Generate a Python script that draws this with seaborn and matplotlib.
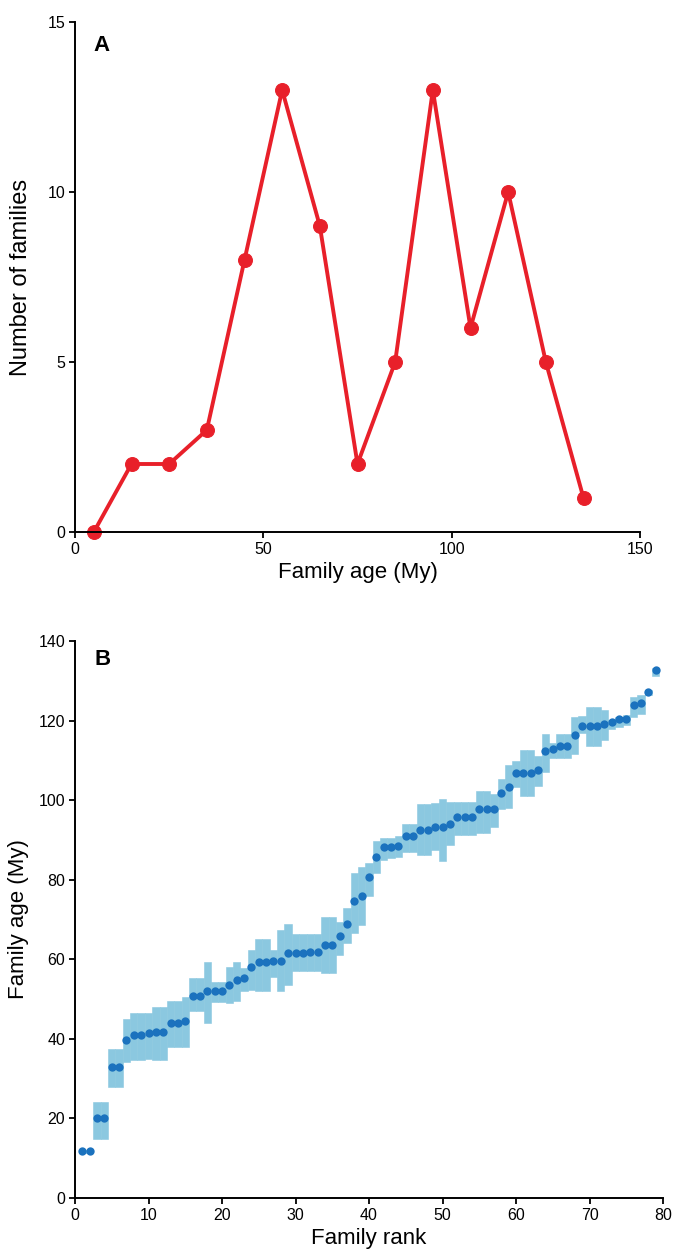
import numpy as np
import pandas as pd
import matplotlib
matplotlib.use("Agg")
import matplotlib.pyplot as plt
import seaborn as sns

sns.set_theme(style="ticks")
plt.rcParams['font.family'] = ['Liberation Sans', 'DejaVu Sans']
plt.rcParams['text.color'] = 'black'
plt.rcParams['axes.labelcolor'] = 'black'
plt.rcParams['xtick.color'] = 'black'
plt.rcParams['ytick.color'] = 'black'

# ---- Panel A data ----
age_bins = [5, 15, 25, 35, 45, 55, 65, 75, 85, 95, 105, 115, 125, 135]
n_families = [0, 2, 2, 3, 8, 13, 9, 2, 5, 13, 6, 10, 5, 1]

# ---- Panel B data ----
family_rank = list(range(1, 80))
family_age = [11.7, 11.7, 20.0, 20.0, 33.0, 33.0, 39.8, 40.9, 40.9, 41.4,
              41.7, 41.7, 44.1, 44.1, 44.5, 50.8, 50.8, 52.1, 52.1, 52.1,
              53.6, 54.9, 55.3, 58.0, 59.2, 59.2, 59.6, 59.6, 61.6, 61.6,
              61.6, 61.9, 61.9, 63.6, 63.6, 65.9, 68.8, 74.7, 75.9, 80.7,
              85.8, 88.2, 88.2, 88.5, 91.0, 91.0, 92.5, 92.5, 93.3, 93.3,
              94.1, 95.7, 95.7, 95.7, 97.7, 97.7, 97.7, 101.9, 103.3, 106.8,
              106.8, 106.8, 107.6, 112.4, 112.8, 113.6, 113.6, 116.3, 118.7, 118.7,
              118.7, 119.2, 119.6, 120.4, 120.3, 123.9, 124.3, 127.1, 132.6]
age_upper = [12.0, 12.0, 24.2, 24.2, 37.4, 37.4, 44.9, 46.4, 46.4, 46.4,
             48.0, 48.0, 49.6, 49.6, 50.4, 55.2, 55.2, 59.2, 54.4, 54.4,
             58.0, 59.2, 57.8, 62.3, 65.1, 65.1, 62.3, 67.3, 68.8, 66.3,
             66.3, 66.3, 66.3, 70.7, 70.7, 69.4, 73.0, 81.7, 83.2, 84.1,
             89.7, 90.4, 90.4, 91.0, 94.1, 94.1, 99.0, 99.0, 99.2, 100.4,
             99.6, 99.6, 99.6, 99.6, 102.3, 102.3, 101.5, 105.2, 108.8, 109.9,
             112.7, 112.7, 111.1, 116.6, 114.4, 116.6, 116.6, 120.9, 121.1, 123.4,
             123.4, 122.6, 120.1, 120.8, 121.4, 126.0, 126.4, 127.6, 133.3]
age_lower = [11.4, 11.4, 14.8, 14.8, 28.0, 28.0, 34.2, 34.7, 34.7, 35.0,
             34.7, 34.7, 37.9, 37.9, 37.9, 47.0, 47.0, 44.0, 49.3, 49.3,
             48.9, 49.6, 52.1, 52.3, 52.0, 52.0, 55.6, 52.0, 53.5, 57.0,
             57.0, 57.0, 57.0, 56.5, 56.5, 61.1, 64.0, 66.7, 68.6, 75.9,
             81.6, 85.0, 85.5, 85.8, 87.0, 87.0, 86.2, 86.2, 87.4, 84.7,
             88.7, 91.2, 91.2, 91.2, 91.8, 91.8, 93.3, 97.7, 97.9, 103.3,
             101.0, 101.0, 103.6, 107.0, 110.5, 110.5, 110.5, 111.7, 116.8, 113.6,
             113.6, 115.1, 118.0, 118.3, 118.8, 120.9, 121.6, 126.4, 131.2]

dfA = pd.DataFrame({"age": age_bins, "n": n_families})
dfB = pd.DataFrame({"rank": family_rank, "age": family_age,
                    "lo": age_lower, "hi": age_upper})

W, H = 678, 1252
fig = plt.figure(figsize=(W / 100, H / 100), dpi=100)

red = "#E8202A"
dot_blue = "#1B72BE"
band_blue = "#8BC8E0"

def style_axes(ax):
    for s in ["top", "right"]:
        ax.spines[s].set_visible(False)
    for s in ["left", "bottom"]:
        ax.spines[s].set_linewidth(1.4)
        ax.spines[s].set_color("black")
    ax.tick_params(direction="out", length=4, width=1.3, labelsize=11.5,
                   colors="black", pad=3)
    ax.grid(False)
    ax.set_facecolor("white")

# ---- Panel A ----
axA = fig.add_axes([75 / W, 1 - 532 / H, (640 - 75) / W, (532 - 22) / H])
sns.lineplot(data=dfA, x="age", y="n", ax=axA, color=red, linewidth=2.8,
             marker="o", markersize=10, markeredgecolor=red, clip_on=False)
axA.set_xlim(0, 150)
axA.set_ylim(0, 15)
axA.set_xticks([0, 50, 100, 150])
axA.set_yticks([0, 5, 10, 15])
style_axes(axA)
axA.set_xlabel("Family age (My)", fontsize=16, labelpad=4)
axA.set_ylabel("Number of families", fontsize=17, labelpad=11)
axA.text(0.033, 0.975, "A", transform=axA.transAxes, fontsize=16,
         fontweight="bold", va="top", ha="left")

# ---- Panel B ----
axB = fig.add_axes([75 / W, 1 - 1198 / H, (663 - 75) / W, (1198 - 641) / H])
axB.bar(dfB["rank"], dfB["hi"] - dfB["lo"], bottom=dfB["lo"], width=1.0,
        color=band_blue, edgecolor=band_blue, linewidth=0.4, zorder=1)
sns.scatterplot(data=dfB, x="rank", y="age", ax=axB, color=dot_blue, s=36,
                linewidth=0, zorder=3, clip_on=False)
axB.set_xlim(0, 80)
axB.set_ylim(0, 140)
axB.set_xticks(np.arange(0, 81, 10))
axB.set_yticks(np.arange(0, 141, 20))
style_axes(axB)
axB.set_xlabel("Family rank", fontsize=16, labelpad=4)
axB.set_ylabel("Family age (My)", fontsize=16, labelpad=7)
axB.text(0.033, 0.985, "B", transform=axB.transAxes, fontsize=16,
         fontweight="bold", va="top", ha="left")

fig.savefig("out.png", dpi=100, facecolor="white")
